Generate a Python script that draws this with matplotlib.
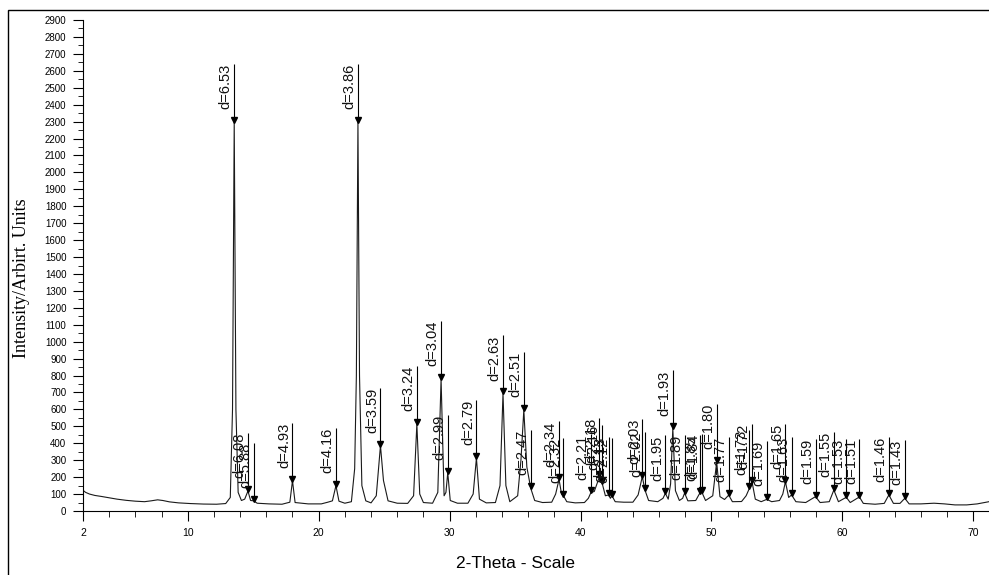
import matplotlib
matplotlib.use("Agg")
import matplotlib.pyplot as plt
from matplotlib.patches import Rectangle
from matplotlib.ticker import MultipleLocator

scan_tt = [2.0, 2.2, 2.5, 2.9, 3.4, 4.0, 4.6, 5.3, 6.0, 6.7, 7.2, 7.7, 8.1, 8.6, 9.3,
           10.2, 11.2, 12.2, 12.9, 13.25, 13.42, 13.55, 13.68, 13.85, 14.1, 14.35, 14.6,
           14.8, 15.05, 15.3, 16.2, 17.2, 17.8, 18.0, 18.2, 19.2, 20.2, 20.7, 21.05,
           21.32, 21.55, 22.0, 22.5, 22.75, 22.88, 23.0, 23.12, 23.3, 23.6, 24.0, 24.4,
           24.72, 24.95, 25.3, 26.0, 26.8, 27.25, 27.5, 27.72, 28.0, 28.7, 29.1, 29.35,
           29.58, 29.72, 29.86, 30.05, 30.6, 31.4, 31.8, 32.05, 32.28, 32.8, 33.5, 33.85,
           34.08, 34.3, 34.6, 35.2, 35.45, 35.67, 35.9, 36.2, 36.5, 37.1, 37.8, 38.1,
           38.36, 38.55, 38.7, 38.95, 39.6, 40.3, 40.6, 40.8, 41.05, 41.3, 41.45, 41.65,
           41.9, 42.15, 42.28, 42.4, 42.65, 43.3, 44.0, 44.4, 44.72, 44.92, 45.2, 45.9,
           46.3, 46.48, 46.7, 46.88, 47.05, 47.25, 47.55, 47.8, 47.95, 48.2, 48.8, 49.1,
           49.25, 49.55, 50.1, 50.4, 50.65, 51.0, 51.32, 51.6, 52.3, 52.65, 52.9, 53.1,
           53.35, 53.8, 54.23, 54.6, 55.2, 55.45, 55.65, 55.9, 56.12, 56.45, 57.2, 57.95,
           58.3, 59.0, 59.35, 59.7, 60.3, 60.6, 61.3, 61.6, 62.5, 63.2, 63.55, 63.9,
           64.4, 64.77, 65.1, 66.0, 67.0, 67.8, 68.6, 69.5, 70.3, 71.2]
scan_counts = [122, 110, 100, 92, 86, 78, 70, 63, 58, 55, 60, 66, 62, 54, 48,
               44, 41, 40, 44, 80, 600, 2300, 600, 110, 62, 70, 118,
               62, 60, 46, 42, 40, 52, 179, 50, 42, 42, 52, 60,
               150, 58, 46, 55, 250, 800, 2300, 800, 150, 60, 48, 90,
               386, 180, 60, 46, 45, 90, 514, 100, 50, 46, 110, 779,
               90, 110, 226, 62, 46, 46, 100, 313, 70, 48, 50, 150,
               695, 150, 55, 90, 300, 597, 260, 134, 62, 50, 52, 100,
               187, 100, 90, 55, 48, 50, 75, 110, 115, 170, 205, 165,
               90, 95, 75, 90, 55, 52, 52, 95, 203, 124, 62, 55,
               75, 104, 70, 160, 488, 120, 62, 75, 106, 60, 62, 104,
               114, 62, 90, 290, 85, 68, 94, 55, 56, 90, 134, 173,
               70, 55, 69, 55, 62, 100, 173, 80, 95, 55, 50, 85,
               50, 55, 124, 55, 81, 50, 83, 45, 40, 45, 95, 45,
               45, 75, 42, 42, 46, 42, 36, 36, 42, 55]

# picked peaks: d-spacing label, position and height
peak_d = ["6.53", "6.08", "5.88", "4.93", "4.16", "3.86", "3.59", "3.24", "3.04", "2.99",
          "2.79", "2.63", "2.51", "2.47", "2.34", "2.32", "2.21", "2.18", "2.16", "2.13",
          "2.12", "2.03", "2.02", "1.95", "1.93", "1.89", "1.85", "1.84", "1.80", "1.77",
          "1.73", "1.72", "1.69", "1.65", "1.63", "1.59", "1.55", "1.53", "1.51", "1.46",
          "1.43"]
peak_tt = [13.55, 14.6, 15.05, 18.0, 21.32, 23.0, 24.72, 27.5, 29.35, 29.86,
           32.05, 34.08, 35.67, 36.2, 38.36, 38.7, 40.8, 41.45, 41.65, 42.15,
           42.4, 44.72, 44.92, 46.48, 47.05, 47.95, 49.1, 49.25, 50.4, 51.32,
           52.9, 53.1, 54.23, 55.65, 56.12, 57.95, 59.35, 60.3, 61.3, 63.55,
           64.77]
peak_counts = [2300, 118, 60, 179, 150, 2300, 386, 514, 779, 226,
               313, 695, 597, 134, 187, 90, 110, 205, 165, 95,
               90, 203, 124, 104, 488, 106, 104, 114, 290, 94,
               134, 173, 69, 173, 95, 85, 124, 81, 83, 95,
               75]

fig = plt.figure(figsize=(9.89, 5.75), dpi=100)
ax = fig.add_axes([83 / 989, 1 - 511 / 575, 1 - 83 / 989, 491 / 575])

ax.plot(scan_tt, scan_counts, color="#1a1a1a", lw=0.8)

# peak markers with their d labels
stick = 343
for d, tt, c in zip(peak_d, peak_tt, peak_counts):
    ax.vlines(tt, c, c + stick, color="black", lw=0.8)
    ax.plot(tt, c + 12, marker="v", color="black", ms=4.5)
    ax.annotate("d=" + d, (tt, c + stick), xytext=(-1, 0), textcoords="offset points",
                rotation=90, rotation_mode="anchor", ha="right", va="bottom",
                fontsize=10.5, family="Liberation Sans", color="#111111")

ax.set_xlim(2, 71.2)
ax.set_ylim(0, 2900)
ax.set_xticks([2, 10, 20, 30, 40, 50, 60, 70])
ax.xaxis.set_minor_locator(MultipleLocator(2))
ax.set_yticks(range(0, 3000, 100))
ax.yaxis.set_minor_locator(MultipleLocator(50))
ax.tick_params(axis="x", which="major", length=7, width=0.8, pad=5, labelsize=7.5)
ax.tick_params(axis="x", which="minor", length=4, width=0.6)
ax.tick_params(axis="y", which="major", length=7, width=0.8, pad=5, labelsize=7)
ax.tick_params(axis="y", which="minor", length=3.5, width=0.6)
for lab in ax.get_xticklabels() + ax.get_yticklabels():
    lab.set_family("Liberation Sans")

ax.spines["top"].set_visible(False)
ax.spines["right"].set_visible(False)
ax.spines["left"].set_linewidth(0.8)
ax.spines["bottom"].set_linewidth(0.8)
ax.patch.set_alpha(0)

fig.text(516 / 989, 1 - 563 / 575, "2-Theta - Scale", ha="center", va="center",
         fontsize=12.5, family="Liberation Sans")
fig.text(22 / 989, 1 - 278 / 575, "Intensity/Arbirt. Units", ha="center", va="center",
         rotation=90, fontsize=13, family="Liberation Serif")

# outer frame of the picture
fig.patches.append(Rectangle((8 / 989, -0.05), 1.0, 1.05 - 10 / 575, transform=fig.transFigure,
                             fill=False, lw=1.0, ec="black"))

fig.savefig("out.png", dpi=100)
